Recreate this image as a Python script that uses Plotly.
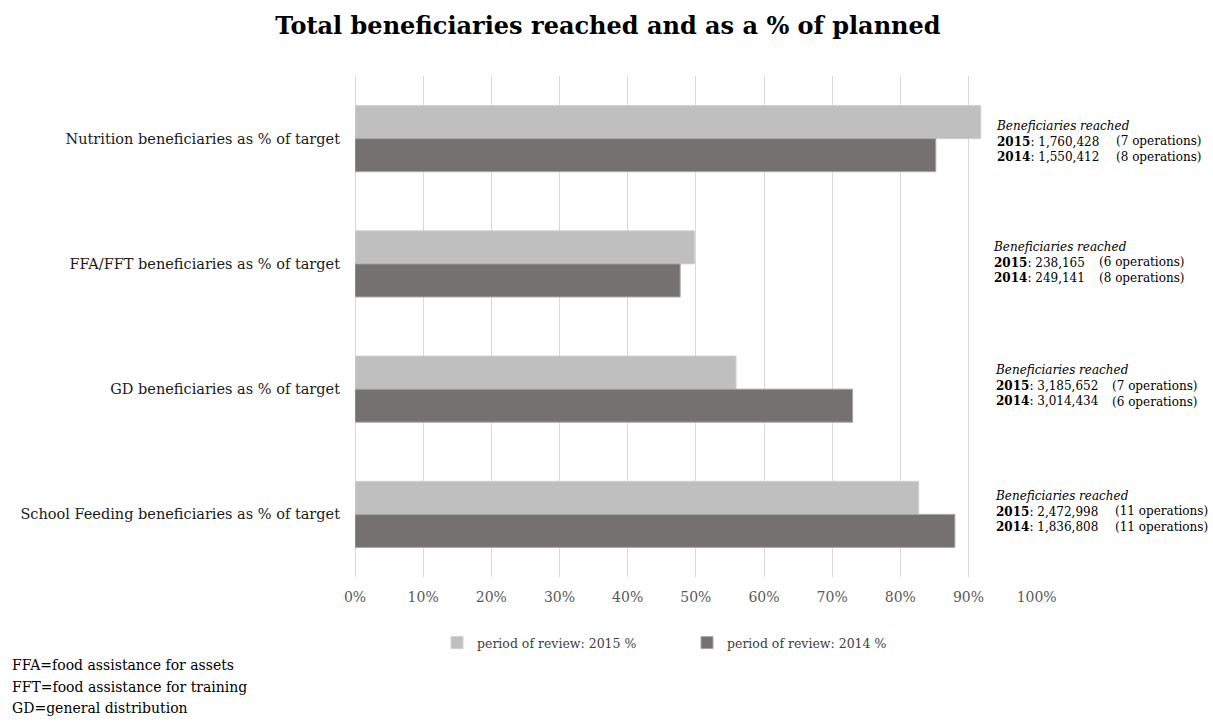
import plotly.graph_objects as go

categories = [
    "Nutrition beneficiaries as % of target",
    "FFA/FFT beneficiaries as % of target",
    "GD beneficiaries as % of target",
    "School Feeding beneficiaries as % of target",
]
pct_2015 = [0.918, 0.498, 0.559, 0.827]
pct_2014 = [0.852, 0.477, 0.730, 0.880]

reached_2015 = ["1,760,428", "238,165", "3,185,652", "2,472,998"]
reached_2014 = ["1,550,412", "249,141", "3,014,434", "1,836,808"]
ops_2015 = [7, 6, 7, 11]
ops_2014 = [8, 8, 6, 11]

tick_vals = [0, 0.1, 0.2, 0.3, 0.4, 0.5, 0.6, 0.7, 0.8, 0.9, 1.0]
tick_text = ["0%", "10%", "20%", "30%", "40%", "50%", "60%", "70%", "80%", "90%", "100%"]

footnotes = [
    "FFA=food assistance for assets",
    "FFT=food assistance for training",
    "GD=general distribution",
]

FONT = "DejaVu Serif"
W, H = 1213, 727
L, R, T, B = 355, 1037, 76, 577


def px_x(p):
    return (p - L) / (R - L)


def px_y(p):
    return (B - p) / (B - T)


fig = go.Figure()
fig.add_trace(go.Bar(
    y=categories, x=pct_2015, orientation="h",
    name="period of review: 2015 %",
    marker=dict(color="#BFBFBF", line=dict(color="#D0D0D0", width=1)),
))
fig.add_trace(go.Bar(
    y=categories, x=pct_2014, orientation="h",
    name="period of review: 2014 %",
    marker=dict(color="#767171", line=dict(color="#A5A5A5", width=1)),
))

annotations = []
block_y = [141, 262, 386, 511]
block_x = [994, 991, 993, 993]
ops_x = [1114, 1097, 1110, 1113]
for i in range(len(categories)):
    annotations.append(dict(
        xref="paper", yref="paper", x=px_x(block_x[i]), y=px_y(block_y[i]),
        xanchor="left", yanchor="middle", align="left", showarrow=False,
        text=("<i>Beneficiaries reached</i><br>"
              f"<b>2015</b>: {reached_2015[i]}<br>"
              f"<b>2014</b>: {reached_2014[i]}"),
        font=dict(family=FONT, size=12, color="#000000"),
    ))
    annotations.append(dict(
        xref="paper", yref="paper", x=px_x(ops_x[i]), y=px_y(block_y[i] + 8),
        xanchor="left", yanchor="middle", align="left", showarrow=False,
        text=f"({ops_2015[i]} operations)<br>({ops_2014[i]} operations)",
        font=dict(family=FONT, size=12, color="#000000"),
    ))

foot_y = [665, 687, 708]
for txt, yy in zip(footnotes, foot_y):
    annotations.append(dict(
        xref="paper", yref="paper", x=px_x(10), y=px_y(yy),
        xanchor="left", yanchor="middle", align="left", showarrow=False,
        text=txt, font=dict(family=FONT, size=14, color="#000000"),
    ))

fig.update_layout(
    width=W, height=H,
    margin=dict(l=L, r=W - R, t=T, b=H - B, pad=0),
    paper_bgcolor="white", plot_bgcolor="white",
    barmode="group", bargap=0.472, bargroupgap=0,
    title=dict(
        text="<b>Total beneficiaries reached and as a % of planned</b>",
        x=608 / W, xanchor="center", y=1 - 26 / H, yanchor="middle",
        font=dict(family=FONT, size=24, color="#000000"),
    ),
    xaxis=dict(
        range=[0, 1.0005], tickvals=tick_vals, ticktext=tick_text,
        showgrid=True, gridcolor="#D9D9D9", gridwidth=1,
        zeroline=True, zerolinecolor="#D9D9D9", zerolinewidth=1,
        showline=False, ticks="", ticklabelstandoff=10,
        tickfont=dict(family=FONT, size=14, color="#595959"),
    ),
    yaxis=dict(
        autorange="reversed", showgrid=False, zeroline=False, showline=False,
        ticks="", ticklabelstandoff=14,
        tickfont=dict(family=FONT, size=14.5, color="#1a1a1a"),
    ),
    legend=dict(
        orientation="h", x=px_x(437), xanchor="left",
        y=px_y(643), yanchor="middle",
        font=dict(family=FONT, size=12.5, color="#404040"),
        itemwidth=30, entrywidthmode="pixels", entrywidth=205,
    ),
    showlegend=True,
    annotations=annotations,
)

fig.write_html("out.html")
